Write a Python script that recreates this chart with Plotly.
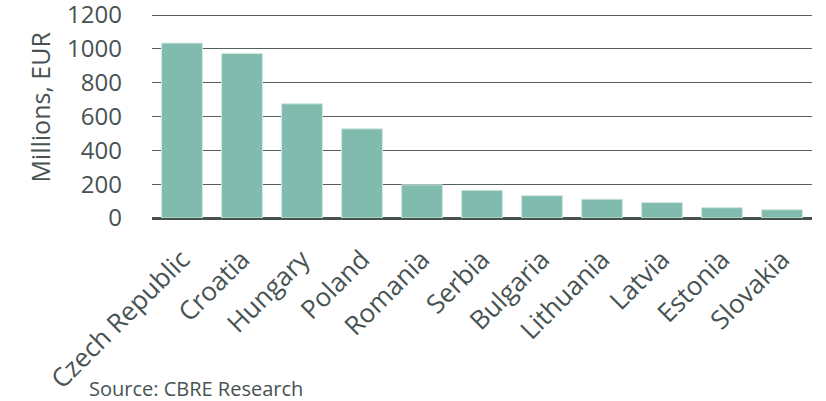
import plotly.graph_objects as go

countries = ["Czech Republic", "Croatia", "Hungary", "Poland", "Romania", "Serbia",
             "Bulgaria", "Lithuania", "Latvia", "Estonia", "Slovakia"]
investment_meur = [1034, 972, 675, 527, 196, 164, 132, 111, 91, 61, 49]
y_ticks = [0, 200, 400, 600, 800, 1000, 1200]

text_color = "#475353"
font_family = "Open Sans, sans-serif"

fig = go.Figure(
    go.Bar(
        x=countries,
        y=investment_meur,
        marker=dict(color="#80BBAD", line=dict(color="#cfe6df", width=1)),
    )
)

fig.update_layout(
    width=826,
    height=401,
    margin=dict(l=152, r=14, t=14, b=183),
    paper_bgcolor="white",
    plot_bgcolor="white",
    bargap=0.32,
    showlegend=False,
    font=dict(family=font_family, color=text_color),
    annotations=[
        dict(
            text="Millions, EUR",
            xref="paper", yref="paper",
            x=-0.17, y=0.545,
            xanchor="center", yanchor="middle",
            textangle=-90,
            showarrow=False,
            font=dict(size=25, color=text_color),
        ),
        dict(
            text="Source: CBRE Research",
            xref="paper", yref="paper",
            x=-0.098, y=-0.838,
            xanchor="left", yanchor="middle",
            showarrow=False,
            font=dict(size=20, color=text_color),
        ),
    ],
)

fig.update_xaxes(
    tickangle=-45,
    tickfont=dict(size=26, color=text_color),
    ticklabelstandoff=20,
    showgrid=False,
    showline=False,
    ticks="",
    automargin=False,
)

fig.update_yaxes(
    range=[0, 1206],
    tickvals=y_ticks,
    tickfont=dict(size=24, color=text_color),
    ticklabelstandoff=29,
    ticklabeloverflow="allow",
    showgrid=True,
    gridcolor="#55605f",
    gridwidth=1.2,
    zeroline=True,
    zerolinecolor="#46514f",
    zerolinewidth=3,
    automargin=False,
)

fig.write_html("out.html")
